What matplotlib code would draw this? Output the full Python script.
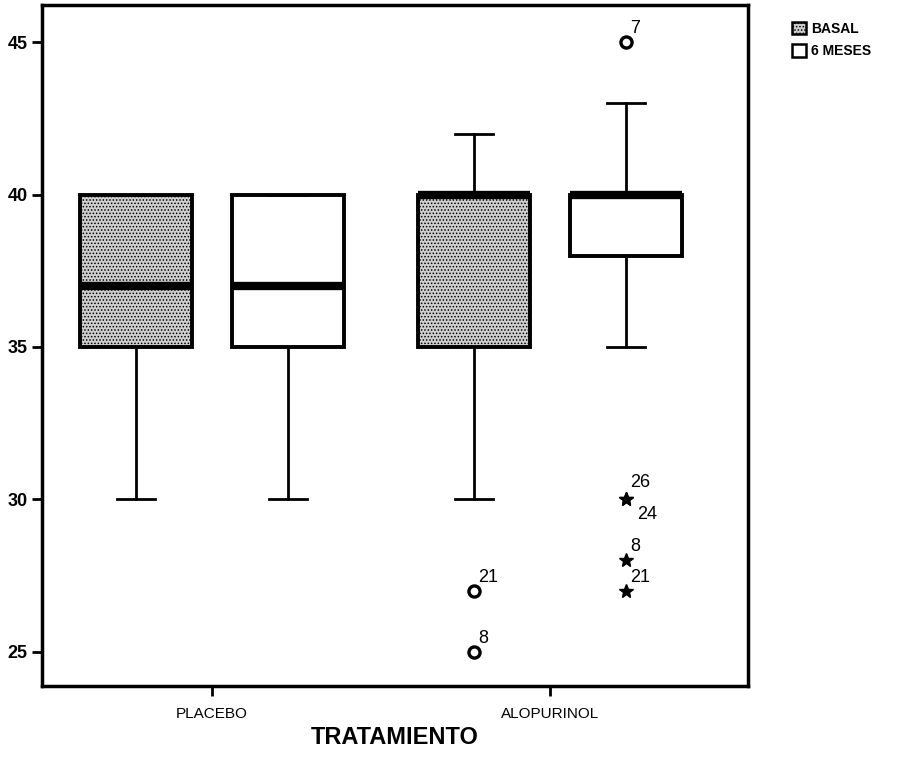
import numpy as np
import matplotlib
matplotlib.use('Agg')
import matplotlib.pyplot as plt
from matplotlib.patches import Patch

plt.rcParams['font.family'] = ['Liberation Sans', 'DejaVu Sans']
plt.rcParams['hatch.color'] = '#6e6e6e'
plt.rcParams['hatch.linewidth'] = 0.7

# --- data ---
categories = ['PLACEBO', 'ALOPURINOL']
groups = ['BASAL', '6 MESES']

# [whislo, q1, med, q3, whishi] per (category, group)
basal_stats = [[30, 35, 37, 40, 40], [30, 35, 40, 40, 42]]
meses_stats = [[30, 35, 37, 40, 40], [35, 38, 40, 40, 43]]

# outliers: (category index, group index, value, label, marker)
out_cat = [1, 1, 1, 1, 1, 1, 1]
out_grp = [0, 0, 1, 1, 1, 1, 1]
out_val = [27, 25, 45, 30, 30, 28, 27]
out_lab = ['21', '8', '7', '26', '24', '8', '21']
out_mark = ['o', 'o', 'o', '*', '*', '*', '*']

yticks = [25, 30, 35, 40, 45]

fig = plt.figure(figsize=(9.06, 7.76), dpi=100)
ax = fig.add_axes([0.0464, 0.116, 0.7792, 0.8776])

offset = 0.225
width = 0.331

def make_stats(s):
    return dict(whislo=s[0], q1=s[1], med=s[2], q3=s[3], whishi=s[4], fliers=[])

for gi, stats in enumerate([basal_stats, meses_stats]):
    pos = [i + (-offset if gi == 0 else offset) for i in range(len(categories))]
    bp = ax.bxp([make_stats(s) for s in stats], positions=pos, widths=width,
                patch_artist=True, showfliers=False,
                boxprops=dict(linewidth=2.8, edgecolor='black',
                              facecolor='#cfcfcf' if gi == 0 else 'white'),
                medianprops=dict(linewidth=6, color='black', solid_capstyle='butt'),
                whiskerprops=dict(linewidth=2),
                capprops=dict(linewidth=2),
                capwidths=width * 0.34)
    if gi == 0:
        for b in bp['boxes']:
            b.set_hatch('.....')

# outliers
label_dx = [0.0, 0.0, 0.0, 0.0, 0.02, 0.0, 0.0]
label_dy = [0.45, 0.45, 0.45, 0.55, -0.5, 0.45, 0.45]
for c, g, v, lab, m, dx, dy in zip(out_cat, out_grp, out_val, out_lab, out_mark, label_dx, label_dy):
    x = c + (-offset if g == 0 else offset)
    if m == 'o':
        ax.plot(x, v, marker='o', ms=8, mfc='white', mec='black', mew=2.4, ls='none')
    else:
        ax.plot(x, v, marker='*', ms=10, color='black', ls='none')
    ax.text(x + 0.012 + dx, v + dy, lab, fontsize=13, ha='left', va='center')

ax.set_xlim(-0.503, 1.586)
ax.set_ylim(23.88, 46.22)
ax.set_yticks(yticks)
ax.set_yticklabels([str(t) for t in yticks], fontsize=13, fontweight='bold')
ax.set_xticks(range(len(categories)))
ax.set_xticklabels(categories, fontsize=11)
ax.tick_params(axis='both', direction='out', length=7, width=2)
ax.tick_params(axis='x', pad=8)
for sp in ax.spines.values():
    sp.set_linewidth(2.5)

ax.set_xlabel('TRATAMIENTO', fontsize=17, fontweight='bold', labelpad=3.5)

handles = [Patch(facecolor='#cfcfcf', edgecolor='black', hatch='.....', linewidth=1.8),
           Patch(facecolor='white', edgecolor='black', linewidth=1.8)]
fig.legend(handles, groups, loc='upper left', bbox_to_anchor=(0.86, 0.988),
           frameon=False, prop=dict(size=10, weight='bold'),
           handlelength=1.0, handleheight=1.0, handletextpad=0.4, labelspacing=0.6)

fig.savefig('out.png', dpi=100)
